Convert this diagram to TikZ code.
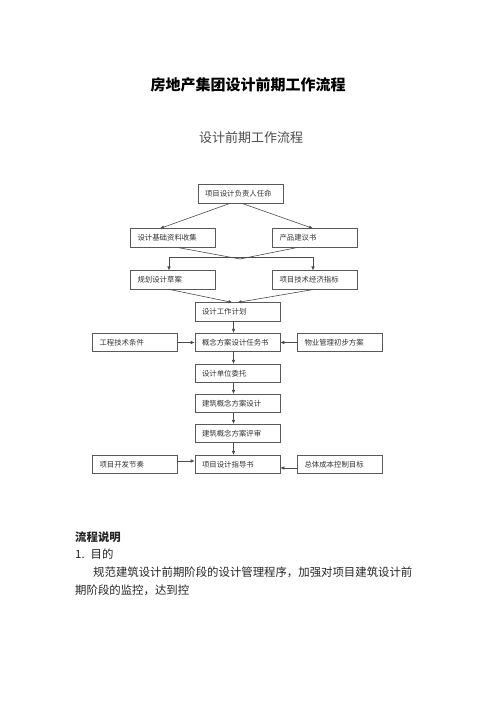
\documentclass[tikz,border=0pt]{standalone}
\usepackage{fontspec}
\newfontfamily\cjk{Noto Sans CJK SC}
\usetikzlibrary{arrows.meta,calc}
\begin{document}
\begin{tikzpicture}[x=1pt,y=-1pt,
  fbox/.style={draw=black!65, line width=0.6pt, rectangle, inner xsep=7pt, inner ysep=0pt,
    minimum height=18.5pt, text width=71pt, align=left, text=black!80,
    font=\cjk\fontsize{7.4}{8}\selectfont},
  arr/.style={draw=black!70, line width=0.6pt, -{Latex[length=4pt,width=3.5pt]}},
  ln/.style={draw=black!70, line width=0.6pt},
  txt/.style={inner sep=0pt, anchor=west, text=black!85, font=\cjk\fontsize{11.4}{13}\selectfont}]
\fill[white] (0,0) rectangle (496,702);
\useasboundingbox (0,0) rectangle (496,702);

\node[inner sep=0pt, font=\cjk\bfseries\fontsize{15}{17}\selectfont] (title) at (248,85) {房地产集团设计前期工作流程};
\node[inner sep=0pt, text=black!70, font=\cjk\fontsize{13}{15}\selectfont] (sub) at (251,138) {设计前期工作流程};

\node[fbox] (A) at (240.5,194) {项目设计负责人任命};
\node[fbox] (B) at (173,238) {设计基础资料收集};
\node[fbox] (C) at (315,238) {产品建议书};
\node[fbox] (D) at (173,280) {规划设计草案};
\node[fbox] (E) at (315,280) {项目技术经济指标};
\node[fbox] (F) at (237.5,312) {设计工作计划};
\node[fbox] (G) at (237.5,342.5) {概念方案设计任务书};
\node[fbox] (H) at (135,342.5) {工程技术条件};
\node[fbox] (I) at (340,342.5) {物业管理初步方案};
\node[fbox] (J) at (237.5,373.5) {设计单位委托};
\node[fbox] (K) at (237.5,403.5) {建筑概念方案设计};
\node[fbox] (L) at (237.5,433.5) {建筑概念方案评审};
\node[fbox] (M) at (237.5,464.5) {项目设计指导书};
\node[fbox] (N) at (135,464.5) {项目开发节奏};
\node[fbox] (O) at (340,464.5) {总体成本控制目标};

% top split
\draw[arr] ($(A.south)+(-11,0)$) -- ($(B.north)+(-13,0)$);
\draw[arr] ($(A.south)+(2,0)$) -- ($(C.north)+(-2,0)$);
% merge and split
\coordinate (m1) at (240,259);
\coordinate (hl) at ($(D.north)+(-4,-13)$);
\coordinate (hr) at ($(E.north)+(-2,-13)$);
\draw[ln] ($(B.south)+(5,0)$) -- (m1);
\draw[ln] ($(C.south)+(-18,0)$) -- (m1);
\draw[ln] (hl) -- (hr);
\draw[arr] (hl) -- ($(D.north)+(-4,0)$);
\draw[arr] (hr) -- ($(E.north)+(-2,0)$);
% merge to F
\draw[arr] ($(D.south)+(-3,0)$) -- ($(F.north)+(-5,0)$);
\draw[arr] ($(E.south)+(-2,0)$) -- ($(F.north)+(0,0)$);
% vertical chain
\draw[arr] ($(F.south)+(-4,0)$) -- ($(G.north)+(-4,0)$);
\draw[arr] ($(G.south)+(-4,0)$) -- ($(J.north)+(-4,0)$);
\draw[arr] ($(J.south)+(-4,0)$) -- ($(K.north)+(-4,0)$);
\draw[arr] ($(K.south)+(-4,0)$) -- ($(L.north)+(-4,0)$);
\draw[arr] ($(L.south)+(-4,0)$) -- ($(M.north)+(-4,0)$);
% side inputs
\draw[arr] (H.east) -- (G.west);
\draw[arr] (I.west) -- (G.east);
\draw[arr] ($(N.east)+(0,-3.5)$) -- ($(M.west)+(0,-3.5)$);
\draw[arr] ($(O.west)+(0,3.5)$) -- ($(M.east)+(0,3.5)$);

% text below
\node[txt, font=\cjk\bfseries\fontsize{11.4}{13}\selectfont] (t1) at (75,537) {流程说明};
\node[txt] (t2) at (75,554.5) {1.\hspace{6pt}目的};
\node[txt] (t3) at (93,572.7) {规范建筑设计前期阶段的设计管理程序，加强对项目建筑设计前};
\node[txt] (t4) at (75,590.7) {期阶段的监控，达到控};
\end{tikzpicture}
\end{document}
